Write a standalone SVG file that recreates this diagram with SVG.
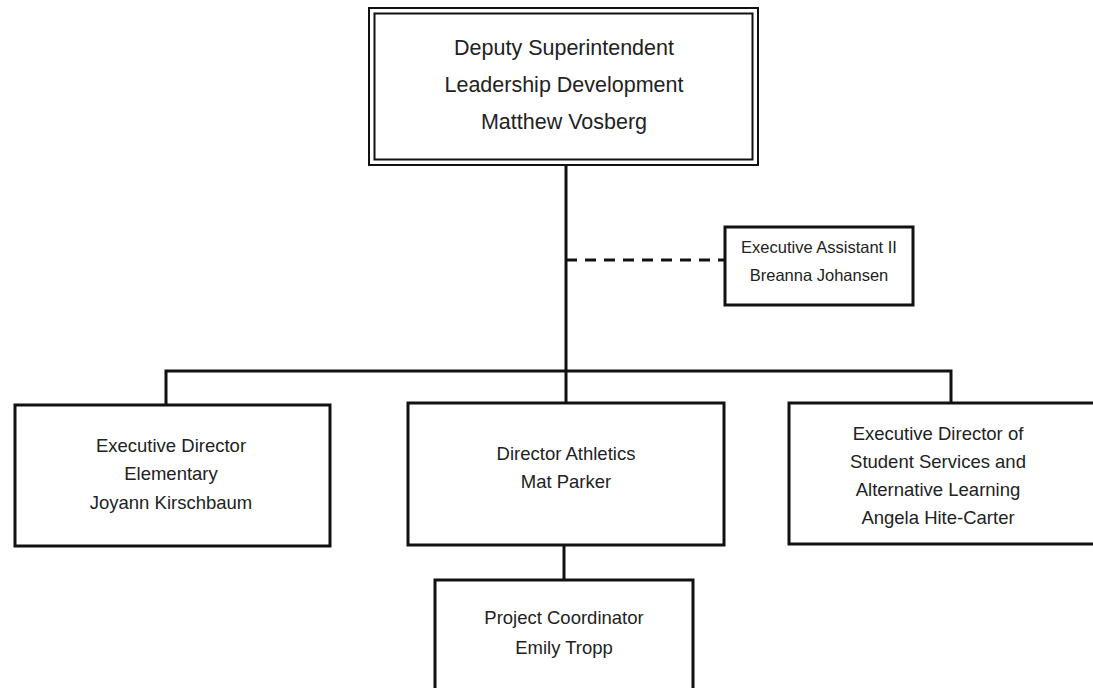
<svg xmlns="http://www.w3.org/2000/svg" width="1093" height="688" viewBox="0 0 1093 688">
<style>
.box{fill:#fff;stroke:#111;stroke-width:3}
.dbl{fill:none;stroke:#111;stroke-width:2}
.ln{stroke:#111;stroke-width:3;fill:none}
.dash{stroke:#111;stroke-width:3;stroke-dasharray:11 8;fill:none}
text{font-family:"Liberation Sans",Arial,sans-serif;font-size:18.5px;fill:#222;text-anchor:middle}
.big{font-size:21.5px}
.sm{font-size:16.5px}
</style>
<rect width="1093" height="688" fill="#fff"/>
<g id="connectors">
<line class="ln" x1="566" y1="165" x2="566" y2="372"/>
<line class="dash" x1="566" y1="260" x2="724" y2="260"/>
<polyline class="ln" points="166,405 166,371 951,371 951,403"/>
<line class="ln" x1="566" y1="371" x2="566" y2="403"/>
<line class="ln" x1="564" y1="545" x2="564" y2="580"/>
</g>
<g id="deputy">
<rect class="dbl" x="369" y="8" width="389" height="157"/>
<rect class="dbl" x="374.5" y="13.5" width="378" height="146"/>
<text class="big" x="564" y="55">Deputy Superintendent</text>
<text class="big" x="564" y="92">Leadership Development</text>
<text class="big" x="564" y="129">Matthew Vosberg</text>
</g>
<g id="exec-assistant">
<rect class="box" x="725" y="227" width="188" height="78"/>
<text class="sm" x="819" y="253">Executive Assistant II</text>
<text class="sm" x="819" y="281">Breanna Johansen</text>
</g>
<g id="exec-elementary">
<rect class="box" x="15" y="405" width="315" height="141"/>
<text x="171" y="452">Executive Director</text>
<text x="171" y="480">Elementary</text>
<text x="171" y="509">Joyann Kirschbaum</text>
</g>
<g id="athletics">
<rect class="box" x="408" y="403" width="316" height="142"/>
<text x="566" y="460">Director Athletics</text>
<text x="566" y="488">Mat Parker</text>
</g>
<g id="student-services">
<rect class="box" x="789" y="403" width="310" height="141"/>
<text x="938" y="440">Executive Director of</text>
<text x="938" y="468">Student Services and</text>
<text x="938" y="496">Alternative Learning</text>
<text x="938" y="524">Angela Hite-Carter</text>
</g>
<g id="project-coordinator">
<rect class="box" x="435" y="580" width="258" height="115"/>
<text x="564" y="624">Project Coordinator</text>
<text x="564" y="654">Emily Tropp</text>
</g>
</svg>
